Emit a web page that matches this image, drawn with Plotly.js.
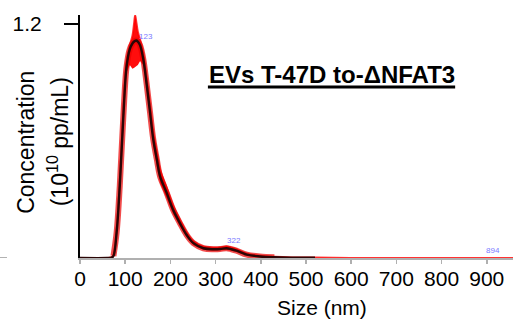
<!DOCTYPE html>
<html>
<head>
<meta charset="utf-8">
<script src="https://cdn.plot.ly/plotly-3.0.1.min.js"></script>
<style>html,body{margin:0;padding:0;background:#fff;}#chart{width:513px;height:322px;}</style>
</head>
<body>
<div id="chart"></div>
<script>
// Size (nm)
var sizes = [0, 60, 70, 74, 81, 88, 96, 103, 110, 116, 120, 122, 124, 128, 133, 140, 147, 155, 162, 170, 177, 192, 206, 221, 236, 251, 273, 295, 310, 324, 335, 346, 369, 398, 430, 470, 520, 600, 700, 800, 900, 958];
// Mean concentration (10^10 pp/mL)
var concentration = [0, 0, 0.002, 0.01, 0.13, 0.37, 0.73, 0.98, 1.07, 1.10, 1.11, 1.113, 1.115, 1.11, 1.09, 1.02, 0.90, 0.745, 0.61, 0.505, 0.42, 0.333, 0.247, 0.179, 0.118, 0.076, 0.05, 0.045, 0.046, 0.05, 0.045, 0.038, 0.017, 0.008, 0.004, 0.002, 0.001, 0, 0, 0, 0, 0];
// Error band (upper / lower)
var upperBand = [0, 0, 0.004, 0.015, 0.14, 0.39, 0.76, 1.01, 1.09, 1.14, 1.21, 1.245, 1.22, 1.16, 1.12, 1.05, 0.93, 0.78, 0.645, 0.54, 0.455, 0.36, 0.268, 0.195, 0.13, 0.086, 0.058, 0.053, 0.054, 0.059, 0.053, 0.045, 0.022, 0.011, 0.006, 0.003, 0.002, 0, 0, 0, 0, 0];
var lowerBand = [0, 0, 0, 0.005, 0.12, 0.35, 0.70, 0.95, 0.99, 0.97, 0.975, 0.98, 0.98, 0.99, 1.01, 0.99, 0.87, 0.71, 0.575, 0.47, 0.385, 0.305, 0.226, 0.163, 0.106, 0.066, 0.042, 0.037, 0.038, 0.041, 0.037, 0.031, 0.012, 0.005, 0.002, 0.001, 0, 0, 0, 0, 0];
// Mode labels
var modeSizes = [126, 320, 893];
var modeLabels = ['123', '322', '894'];
var modeY = [1.10, 0.055, 0.005];

var xTickVals = [0, 100, 200, 300, 400, 500, 600, 700, 800, 900];
var xTickText = ['0', '100', '200', '300', '400', '500', '600', '700', '800', '900'];
var yTickVals = [1.2];
var yTickText = ['1.2'];

var FONT = 'Liberation Sans, Arial, sans-serif';

// subsets of the measured curve: the red glow only where the signal is present,
// the dark line only over the measured part
function pick(arr, keep) { var out = []; for (var i = 0; i < arr.length; i++) if (keep(i)) out.push(arr[i]); return out; }
var glowKeep = function (i) { return concentration[i] >= 0.004 || (i > 0 && concentration[i - 1] >= 0.004 && i < 34); };
var lineKeep = function (i) { return sizes[i] <= 520; };

var traces = [
  {x: sizes, y: lowerBand, mode: 'lines', line: {width: 0, color: 'rgba(255,0,0,0)'}, hoverinfo: 'skip', showlegend: false},
  {x: sizes, y: upperBand, mode: 'lines', fill: 'tonexty', fillcolor: 'rgba(255,0,0,0.95)', line: {width: 2, color: 'rgba(255,0,0,0.8)', shape: 'spline'}, hoverinfo: 'skip', showlegend: false},
  {x: pick(sizes, glowKeep), y: pick(concentration, glowKeep), mode: 'lines', line: {width: 6, color: 'rgba(235,0,0,0.7)', shape: 'spline'}, hoverinfo: 'skip', showlegend: false},
  {x: pick(sizes, lineKeep), y: pick(concentration, lineKeep), mode: 'lines', line: {width: 2.4, color: '#2a0505', shape: 'spline'}, showlegend: false}
];

var annotations = [
  {xref: 'paper', yref: 'y', x: -0.125, y: 0.595, text: 'Concentration', textangle: -90, showarrow: false, font: {family: FONT, size: 23, color: '#000'}, xanchor: 'center', yanchor: 'middle'},
  {xref: 'paper', yref: 'y', x: -0.05, y: 0.595, text: '(10<sup>10</sup> pp/mL)', textangle: -90, showarrow: false, font: {family: FONT, size: 23, color: '#000'}, xanchor: 'center', yanchor: 'middle'},
  {xref: 'x', yref: 'y', x: 558, y: 0.94, text: '<b>EVs T-47D to-ΔNFAT3</b>', showarrow: false, font: {family: FONT, size: 24, color: '#000'}, xanchor: 'center', yanchor: 'middle'},
  {xref: 'x', yref: 'paper', x: 535, y: 0, yshift: -49, text: 'Size (nm)', showarrow: false, font: {family: FONT, size: 21, color: '#000'}, xanchor: 'center', yanchor: 'middle'}
];
for (var i = 0; i < modeSizes.length; i++) {
  annotations.push({xref: 'x', yref: 'y', x: modeSizes[i], y: modeY[i], text: modeLabels[i], showarrow: false, font: {family: FONT, size: 8, color: '#7a7aff'}, xanchor: 'left', yanchor: 'bottom'});
}

var layout = {
  width: 513, height: 322,
  margin: {l: 80, r: 0, t: 15, b: 64, pad: 0},
  paper_bgcolor: '#fff', plot_bgcolor: '#fff',
  showlegend: false,
  xaxis: {
    range: [0, 958], showgrid: false, zeroline: false,
    showline: true, linecolor: '#b0b0b0', linewidth: 1.5,
    tickmode: 'array', tickvals: xTickVals, ticktext: xTickText,
    ticks: 'outside', ticklen: 4, tickcolor: '#b0b0b0', tickwidth: 1.5,
    ticklabelstandoff: -3,
    tickfont: {family: FONT, size: 21, color: '#000'}
  },
  yaxis: {
    range: [0, 1.246], showgrid: false, zeroline: false,
    showline: true, linecolor: '#000', linewidth: 2,
    tickmode: 'array', tickvals: yTickVals, ticktext: yTickText,
    ticks: 'outside', ticklen: 14, tickcolor: '#000', tickwidth: 1.5,
    ticklabelstandoff: 18,
    tickfont: {family: FONT, size: 21, color: '#000'}
  },
  annotations: annotations,
  shapes: [
    {type: 'line', xref: 'x', yref: 'y', x0: 283, x1: 830, y0: 0.877, y1: 0.877, line: {color: '#000', width: 3}},
    {type: 'line', xref: 'paper', yref: 'y', x0: -0.1848, x1: -0.1686, y0: 0, y1: 0, line: {color: '#999', width: 1.5}},
    {type: 'line', xref: 'paper', yref: 'y', x0: -0.1686, x1: -0.1686, y0: 0, y1: -0.04, line: {color: '#999', width: 1.5}}
  ]
};

Plotly.newPlot('chart', traces, layout, {displayModeBar: false, staticPlot: true});
</script>
</body>
</html>
